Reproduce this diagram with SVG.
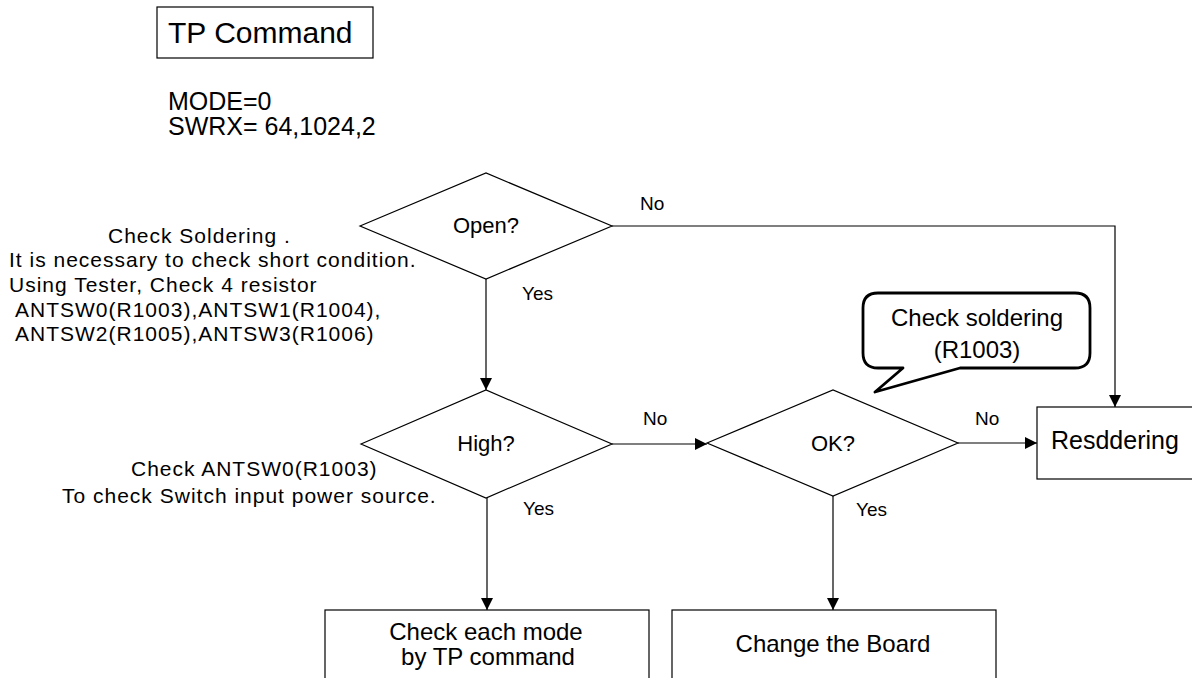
<svg xmlns="http://www.w3.org/2000/svg" width="1192" height="678" viewBox="0 0 1192 678">
<style>
text{font-family:"Liberation Sans",Arial,sans-serif;fill:#000}
.shape{fill:#fff;stroke:#000;stroke-width:1.2}
.conn{fill:none;stroke:#000;stroke-width:1.2}
.note{font-size:21px;letter-spacing:1px}
.lbl{font-size:19px}
.dec{font-size:22px;text-anchor:middle}
.box{font-size:24px;text-anchor:middle}
.code{font-size:25px}
</style>
<defs>
<marker id="arr" viewBox="0 0 12 12" refX="12" refY="6" markerWidth="12" markerHeight="12" markerUnits="userSpaceOnUse" orient="auto">
<path d="M0,0 L12,6 L0,12 Z" fill="#000"/>
</marker>
</defs>
<rect width="1192" height="678" fill="#fff"/>

<g id="title">
<rect class="shape" x="157" y="7" width="216" height="51"/>
<text x="168" y="43" style="font-size:30px">TP Command</text>
</g>
<g id="params">
<text class="code" x="168" y="110">MODE=0</text>
<text class="code" x="168" y="135">SWRX= 64,1024,2</text>
</g>

<g id="connectors">
<polyline class="conn" points="612,226 1115,226 1115,407" marker-end="url(#arr)"/>
<line class="conn" x1="486" y1="279" x2="486" y2="390" marker-end="url(#arr)"/>
<line class="conn" x1="612" y1="444" x2="707" y2="444" marker-end="url(#arr)"/>
<line class="conn" x1="958" y1="443" x2="1037" y2="443" marker-end="url(#arr)"/>
<line class="conn" x1="487" y1="498" x2="487" y2="610" marker-end="url(#arr)"/>
<line class="conn" x1="833" y1="496" x2="833" y2="610" marker-end="url(#arr)"/>
<text class="lbl" x="640" y="210">No</text>
<text class="lbl" x="522" y="300">Yes</text>
<text class="lbl" x="643" y="425">No</text>
<text class="lbl" x="523" y="515">Yes</text>
<text class="lbl" x="975" y="425">No</text>
<text class="lbl" x="856" y="516">Yes</text>
</g>

<g id="open">
<polygon class="shape" points="360,226 486,173 612,226 486,279"/>
<text class="dec" x="486" y="233">Open?</text>
</g>
<g id="note-open">
<text class="note" x="108" y="243">Check Soldering .</text>
<text class="note" x="9" y="267">It is necessary to check short condition.</text>
<text class="note" x="9" y="292">Using Tester, Check 4 resistor</text>
<text class="note" x="15" y="317">ANTSW0(R1003),ANTSW1(R1004),</text>
<text class="note" x="15" y="341">ANTSW2(R1005),ANTSW3(R1006)</text>
</g>

<g id="high">
<polygon class="shape" points="361,444 486,390 612,444 486,498"/>
<text class="dec" x="486" y="451">High?</text>
</g>
<g id="note-high">
<text class="note" x="131" y="476">Check ANTSW0(R1003)</text>
<text class="note" x="62" y="503">To check Switch input power source.</text>
</g>

<g id="ok">
<polygon class="shape" points="707,443 833,390 958,443 833,496"/>
<text class="dec" x="833" y="451">OK?</text>
</g>

<g id="callout">
<path d="M878,368 L903,368 L875,392 L960,368 L1075,368 Q1090,368 1090,353 L1090,308 Q1090,293 1075,293 L878,293 Q863,293 863,308 L863,353 Q863,368 878,368 Z" fill="#fff" stroke="#000" stroke-width="2.8" stroke-linejoin="round"/>
<text class="box" x="977" y="326">Check soldering</text>
<text class="box" x="977" y="358">(R1003)</text>
</g>

<g id="resoldering">
<rect class="shape" x="1037" y="407" width="170" height="72"/>
<text x="1051" y="449" style="font-size:25px">Resddering</text>
</g>

<g id="check-mode">
<rect class="shape" x="325" y="610" width="324" height="90"/>
<text class="box" x="486" y="640">Check each mode</text>
<text class="box" x="488" y="665">by TP command</text>
</g>

<g id="change-board">
<rect class="shape" x="672" y="610" width="324" height="90"/>
<text class="box" x="833" y="652">Change the Board</text>
</g>
</svg>
